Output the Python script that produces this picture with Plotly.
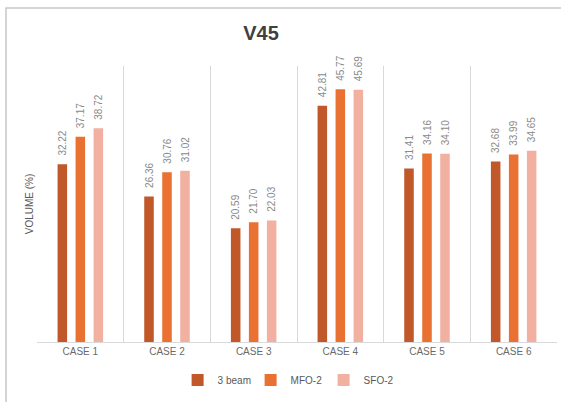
import plotly.graph_objects as go

categories = ["CASE 1", "CASE 2", "CASE 3", "CASE 4", "CASE 5", "CASE 6"]
beam3 = [32.22, 26.36, 20.59, 42.81, 31.41, 32.68]
mfo2 = [37.17, 30.76, 21.70, 45.77, 34.16, 33.99]
sfo2 = [38.72, 31.02, 22.03, 45.69, 34.10, 34.65]

series = [
    ("3 beam", beam3, "#C0582A"),
    ("MFO-2", mfo2, "#E97132"),
    ("SFO-2", sfo2, "#F1B0A0"),
]

fig = go.Figure()
for name, vals, color in series:
    fig.add_trace(go.Bar(
        x=categories, y=vals, name=name,
        marker=dict(color=color, line=dict(width=0)),
        text=[f"\u00a0\u00a0{v:.2f}" for v in vals],
        textposition="outside", textangle=-90, constraintext="none",
        textfont=dict(family="Liberation Sans, Arial, sans-serif", size=10, color="#8a8a8a"),
        cliponaxis=False,
    ))

fig.update_layout(
    width=561, height=402,
    margin=dict(l=37, r=4, t=66, b=60),
    paper_bgcolor="white", plot_bgcolor="white",
    barmode="group", bargap=0.377, bargroupgap=0.47,
    title=dict(text="<b>V45</b>", x=261 / 561, xanchor="center", y=1 - 33 / 402, yanchor="middle",
               font=dict(family="Liberation Sans, Arial, sans-serif", size=20, color="#404040")),
    font=dict(family="Liberation Sans, Arial, sans-serif", color="#595959"),
    showlegend=True,
    legend=dict(orientation="h", x=0.481, xanchor="center", y=-0.138, yanchor="middle",
                font=dict(size=10, color="#595959"), itemwidth=30, traceorder="normal",
                entrywidth=28, entrywidthmode="pixels", tracegroupgap=0),
)
fig.update_xaxes(
    tickson="boundaries", showgrid=True, gridcolor="#D9D9D9", gridwidth=1,
    showline=True, linecolor="#D9D9D9", linewidth=1, ticks="",
    tickfont=dict(size=10, color="#6a6a6a"),
)
fig.update_yaxes(
    range=[0, 50], showgrid=False, showticklabels=False, zeroline=False, showline=False,
    title=dict(text="VOLUME (%)", standoff=0, font=dict(size=10, color="#595959")),
)
# outer chart border (left and top edges fall inside the page)
fig.add_shape(type="rect", xref="paper", yref="paper",
              x0=(6 - 37) / 520, x1=1.2, y0=-0.5, y1=(342 - 8) / 276,
              line=dict(color="#C8C8C8", width=1.5), fillcolor="rgba(0,0,0,0)", layer="below")

fig.write_html("out.html")
